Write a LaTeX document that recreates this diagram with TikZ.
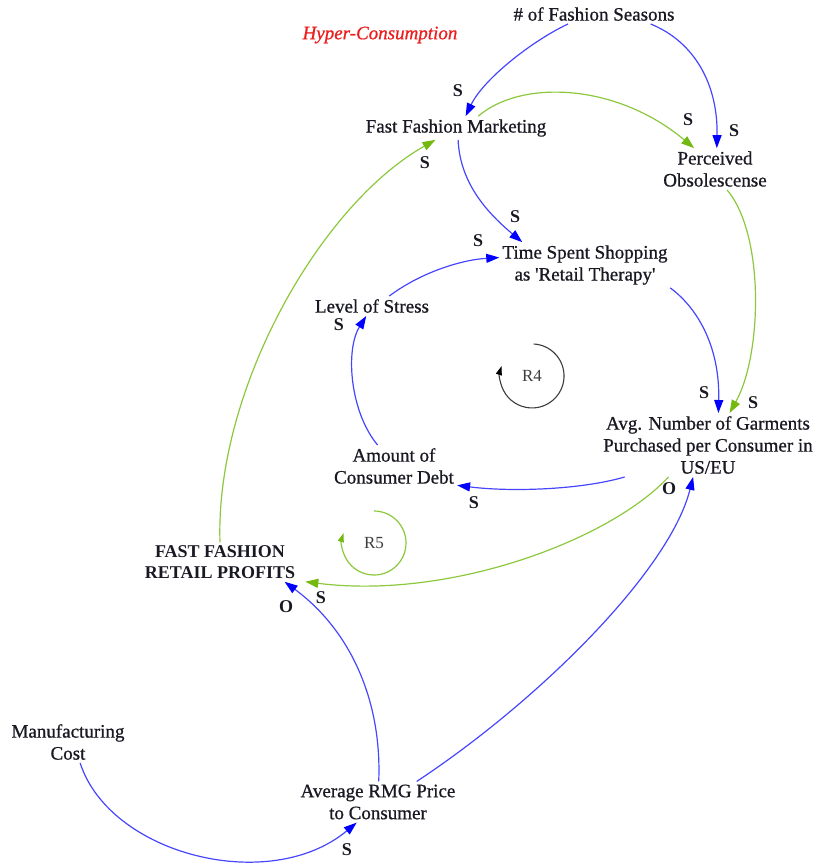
\documentclass[tikz,border=0pt]{standalone}
\usepackage{fontspec}
\setmainfont{Liberation Serif}
\newfontfamily\varfont[FakeBold=0.8]{Liberation Serif}
\usetikzlibrary{arrows.meta}
\definecolor{linkblue}{RGB}{70,70,255}
\definecolor{tipblue}{RGB}{0,0,255}
\definecolor{linkgreen}{RGB}{140,200,60}
\definecolor{tipgreen}{RGB}{115,185,15}
\definecolor{loopgray}{RGB}{60,60,60}
\definecolor{titlered}{RGB}{235,30,30}
\definecolor{labelink}{RGB}{25,25,35}

\begin{document}
\begin{tikzpicture}[x=1pt,y=-1pt,
  var/.style={align=center,inner sep=3pt,text=labelink,font=\varfont\fontsize{19}{22}\selectfont},
  pol/.style={inner sep=0pt,text=labelink,font=\bfseries\fontsize{18}{20}\selectfont},
  bluelink/.style={draw=linkblue,line width=1.2pt,
    -{Triangle[length=13pt,width=9pt,color=tipblue]}},
  greenlink/.style={draw=linkgreen,line width=1.2pt,
    -{Triangle[length=13pt,width=9pt,color=tipgreen]}},
  looplabel/.style={inner sep=0pt,text=loopgray,font=\fontsize{17}{20}\selectfont}]

\useasboundingbox (0,0) rectangle (816,865);

% variables
\node[var] (seasons) at (594,14) {\# of Fashion Seasons};
\node[var,text=titlered,font=\varfont\itshape\fontsize{19}{22}\selectfont] (hyper) at (380,35) {Hyper-Consumption};
\node[var] (mkt) at (456,128) {Fast Fashion Marketing};
\node[var] (perc) at (715,169) {Perceived\\Obsolescense};
\node[var] (time) at (585,265) {Time Spent Shopping\\as \textquotesingle Retail Therapy\textquotesingle};
\node[var] (stress) at (372,306) {Level of Stress};
\node[var] (avg) at (708,445) {Avg. Number of Garments\\Purchased per Consumer in\\US/EU};
\node[var] (debt) at (394,466) {Amount of\\Consumer Debt};
\node[var,inner xsep=10pt,font=\bfseries\fontsize{18}{21}\selectfont] (profits) at (220,562) {FAST FASHION\\RETAIL PROFITS};
\node[var] (manuf) at (68,742) {Manufacturing\\Cost};
\node[var] (price) at (378,802) {Average RMG Price\\to Consumer};

% causal links
\draw[bluelink] (seasons.201) .. controls (530,42) and (483,80) .. (mkt.51);
\draw[bluelink] (seasons.-10) .. controls (695,42) and (718,85) .. (perc.85);
\draw[greenlink] (mkt.28) .. controls (520,80) and (615,82) .. (perc.135);
\draw[bluelink] (mkt.-80) .. controls (460,185) and (490,215) .. (time.160);
\draw[bluelink] (stress.30) .. controls (420,273) and (460,260) .. (time.175);
\draw[bluelink] (debt.128) .. controls (350,412) and (345,350) .. (stress.240);
\draw[bluelink] (time.-15) .. controls (700,310) and (720,350) .. (avg.72);
\draw[greenlink] (perc.-60) .. controls (765,235) and (762,355) .. (avg.56);
\draw[bluelink] (avg.201) .. controls (580,490) and (510,492) .. (debt.-17);
\draw[greenlink] (avg.219) .. controls (610,540) and (450,600) .. (profits.-13);
\draw[greenlink] (profits.north) .. controls (215,390) and (320,205) .. (mkt.210);
\draw[bluelink] (price.88) .. controls (382,700) and (350,630) .. (profits.-17);
\draw[bluelink] (price.28) .. controls (540,700) and (670,570) .. (avg.245);
\draw[bluelink] (manuf.-60) .. controls (110,855) and (270,895) .. (price.224);

% polarity labels
\node[pol] (p1) at (458,91) {S};
\node[pol] (p2) at (734,131) {S};
\node[pol] (p3) at (688,120) {S};
\node[pol] (p4) at (425,163) {S};
\node[pol] (p5) at (515,217) {S};
\node[pol] (p6) at (478,241) {S};
\node[pol] (p7) at (339,325) {S};
\node[pol] (p8) at (704,393) {S};
\node[pol] (p9) at (753,403) {S};
\node[pol] (p10) at (474,503) {S};
\node[pol] (p11) at (669,489) {O};
\node[pol] (p12) at (321,598) {S};
\node[pol] (p13) at (286,607) {O};
\node[pol] (p14) at (347,850) {S};

% loop markers
\node[looplabel] (r4) at (532,376) {R4};
\draw[draw=loopgray,line width=1.1pt,-{Triangle[length=9pt,width=6pt,color=black]}]
  (r4) ++(1.7,-32) arc[start angle=-87, end angle=198, radius=32];
\node[looplabel] (r5) at (374,543) {R5};
\draw[draw=linkgreen,line width=1.2pt,-{Triangle[length=9pt,width=6pt,color=tipgreen]}]
  (r5) ++(0,-32) arc[start angle=-90, end angle=198, radius=32];

\end{tikzpicture}
\end{document}
